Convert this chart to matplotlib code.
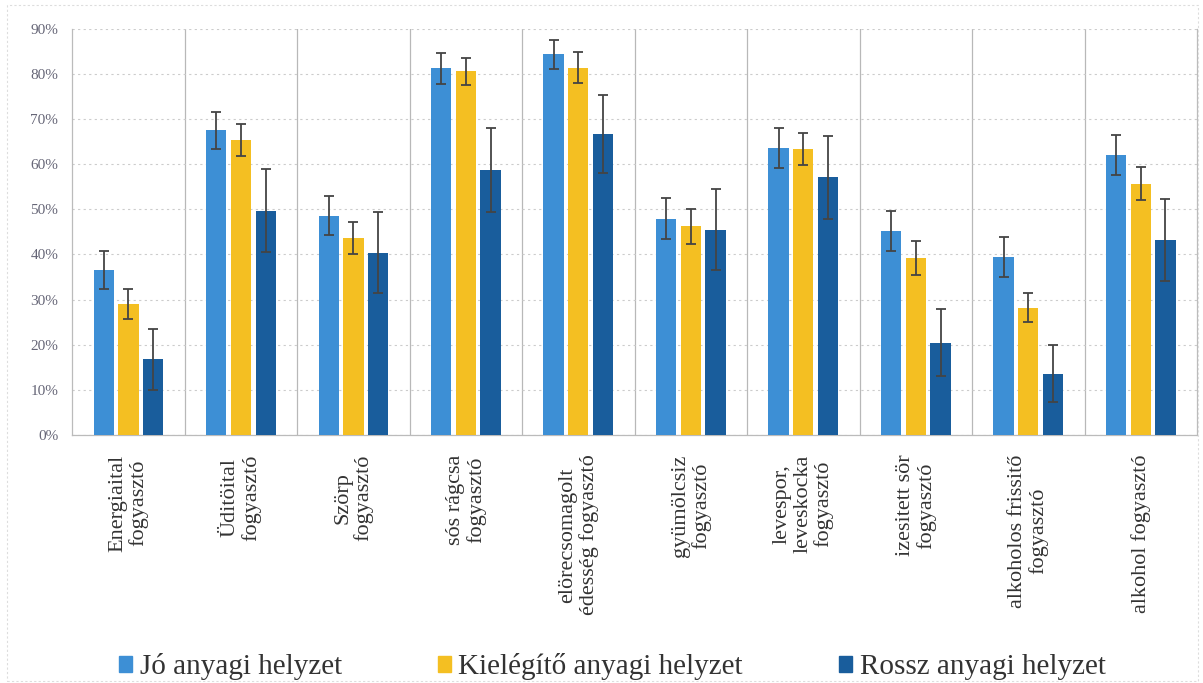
import numpy as np
import matplotlib.pyplot as plt
from matplotlib.patches import Rectangle

categories = [
    "Energiaital\nfogyasztó",
    "Üditöital\nfogyasztó",
    "Szörp\nfogyasztó",
    "sós rágcsa\nfogyasztó",
    "elörecsomagolt\nédesség fogyasztó",
    "gyümölcsiz\nfogyasztó",
    "levespor,\nleveskocka\nfogyasztó",
    "izesitett sör\nfogyasztó",
    "alkoholos frissitő\nfogyasztó",
    "alkohol fogyasztó",
]

series_names = ["Jó anyagi helyzet", "Kielégítő anyagi helyzet", "Rossz anyagi helyzet"]

jo_values = [36.6, 67.5, 48.6, 81.2, 84.3, 47.9, 63.5, 45.2, 39.5, 62.1]
kielegito_values = [29.0, 65.3, 43.6, 80.6, 81.4, 46.2, 63.4, 39.2, 28.2, 55.7]
rossz_values = [16.8, 49.7, 40.4, 58.7, 66.7, 45.5, 57.1, 20.5, 13.6, 43.2]

jo_err = [4.2, 4.1, 4.3, 3.5, 3.3, 4.5, 4.4, 4.4, 4.4, 4.4]
kielegito_err = [3.4, 3.6, 3.6, 3.0, 3.4, 3.8, 3.6, 3.7, 3.2, 3.7]
rossz_err = [6.8, 9.2, 9.0, 9.2, 8.7, 8.9, 9.2, 7.4, 6.3, 9.1]

colors = ["#3d8fd5", "#f4bf22", "#195d9c"]

plt.rcParams['font.family'] = ['Liberation Serif', 'DejaVu Serif']

fig = plt.figure(figsize=(12.03, 6.83), dpi=100)
ax = fig.add_axes([0.06, 0.363, 0.935, 0.595])

x = np.arange(len(categories))
width = 0.18
offset = 0.22

all_values = [jo_values, kielegito_values, rossz_values]
all_err = [jo_err, kielegito_err, rossz_err]
for i, (vals, errs) in enumerate(zip(all_values, all_err)):
    ax.bar(x + (i - 1) * offset, vals, width, color=colors[i], label=series_names[i],
           yerr=errs, error_kw=dict(ecolor="#444444", elinewidth=1.3, capsize=3.5, capthick=1.3),
           zorder=3)

ax.set_xlim(-0.5, len(categories) - 0.5)
ax.set_ylim(0, 90)
ax.set_yticks(range(0, 91, 10))
ax.set_yticklabels([f"{v}%" for v in range(0, 91, 10)], color="#666677", fontsize=11)
ax.yaxis.grid(True, linestyle=(0, (2, 3)), color="#cccccc", linewidth=0.8, zorder=0)

# separators between categories
for sep in np.arange(0.5, len(categories) - 0.5, 1):
    ax.axvline(sep, color="#b8b8b8", linewidth=0.9, zorder=1)

ax.spines["top"].set_visible(False)
for side in ["left", "right", "bottom"]:
    ax.spines[side].set_color("#bbbbbb")
    ax.spines[side].set_linewidth(0.9)

ax.tick_params(axis="y", length=0, pad=10)
ax.tick_params(axis="x", length=0, pad=14)
ax.set_xticks(x)
ax.set_xticklabels(categories, rotation=90, fontsize=16, color="#333333",
                   va="top", ha="center", multialignment="center", linespacing=1.1)

fig.legend([Rectangle((0, 0), 1, 1, color=c) for c in colors], series_names,
           loc="center", bbox_to_anchor=(0.509, 0.024), ncol=3, frameon=False,
           fontsize=21, handlelength=0.45, handleheight=0.45, handletextpad=0.25,
           columnspacing=3.3, labelcolor="#333333")

# faint outer frame
fig.patches.append(Rectangle((0.006, 0.003), 0.99, 0.99, transform=fig.transFigure,
                             fill=False, edgecolor="#dddddd", linewidth=0.8,
                             linestyle=(0, (2, 2))))

fig.savefig("out.png", dpi=100)
